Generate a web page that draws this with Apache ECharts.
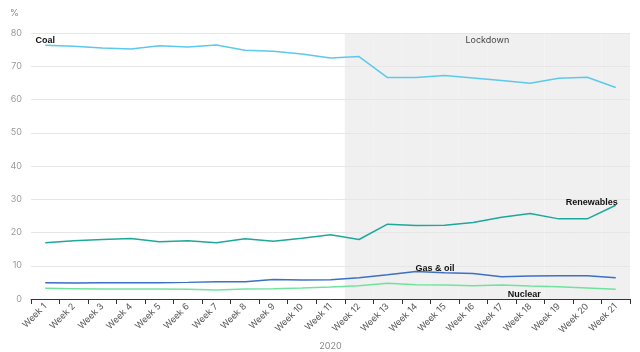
<!DOCTYPE html>
<html>
<head>
<meta charset="utf-8">
<script src="https://cdn.jsdelivr.net/npm/echarts@6/dist/echarts.min.js"></script>
<style>
html,body{margin:0;padding:0;background:#fff;}
#chart{width:640px;height:352px;}
</style>
</head>
<body>
<div id="chart"></div>
<script>
var weeks = [];
for (var i = 1; i <= 21; i++) weeks.push('Week ' + i);

var coal = [76.3, 76.0, 75.5, 75.2, 76.2, 75.8, 76.4, 74.8, 74.5, 73.7, 72.5, 72.9, 66.6, 66.6, 67.2, 66.5, 65.7, 64.9, 66.4, 66.7, 63.6];
var renewables = [16.9, 17.5, 17.9, 18.2, 17.2, 17.5, 16.9, 18.1, 17.4, 18.3, 19.3, 17.9, 22.5, 22.1, 22.2, 23.0, 24.6, 25.7, 24.1, 24.1, 28.2];
var gasOil = [4.9, 4.8, 4.9, 4.9, 4.9, 5.0, 5.2, 5.2, 5.9, 5.7, 5.8, 6.4, 7.3, 8.3, 7.9, 7.7, 6.7, 6.9, 7.0, 7.0, 6.4];
var nuclear = [3.2, 3.1, 3.0, 3.0, 3.0, 2.9, 2.7, 3.0, 3.1, 3.3, 3.6, 4.0, 4.7, 4.3, 4.2, 4.0, 4.2, 3.9, 3.7, 3.3, 2.9];
var lockdownStart = 11; // index of Week 12
var lockdown = weeks.map(function (w, i) { return i >= lockdownStart ? 80 : null; });

var labelStyle = { fontFamily: 'Liberation Sans', fontWeight: 'bold', fontSize: 9, color: '#111' };

function labelled(arr, idx, pos, offset, text) {
	return arr.map(function (v, i) {
		if (i !== idx) return v;
		return {
			value: v,
			label: Object.assign({ show: true, position: pos, offset: offset, distance: 3, formatter: text }, labelStyle)
		};
	});
}

function lineSeries(name, data, color) {
	return {
		name: name,
		type: 'line',
		data: data,
		symbol: 'circle',
		symbolSize: 0,
		showSymbol: true,
		showAllSymbol: true,
		itemStyle: { color: color },
		lineStyle: { color: color, width: 1.5 }
	};
}

var coalSeries = lineSeries('Coal', labelled(coal, 0, 'top', [0, 3], 'Coal'), '#5cc9ec');
coalSeries.markArea = {
	silent: true,
	itemStyle: { color: 'rgba(0,0,0,0)' },
	label: { show: true, position: 'insideTop', distance: 3, color: '#444', fontSize: 9, fontFamily: 'Inter' },
	data: [[{ name: 'Lockdown', xAxis: 'Week 12', yAxis: 80 }, { xAxis: 'Week 21', yAxis: 70 }]]
};

var chart = echarts.init(document.getElementById('chart'));
chart.setOption({
	animation: false,
	title: {
		text: '%', left: 5, top: 4,
		textStyle: { fontSize: 9, fontWeight: 'normal', color: '#888', fontFamily: 'Inter' }
	},
	grid: { left: 31, right: 10, top: 33, bottom: 53, outerBoundsMode: 'none', containLabel: false },
	xAxis: {
		type: 'category',
		data: weeks,
		name: '2020',
		nameLocation: 'middle',
		nameGap: 41,
		nameTextStyle: { color: '#888', fontSize: 9, fontFamily: 'Inter' },
		axisLine: { lineStyle: { color: '#333' } },
		axisTick: { show: true, interval: 0, length: 5, lineStyle: { color: '#333' } },
		axisLabel: { interval: 0, rotate: 45, fontSize: 9, color: '#555', fontFamily: 'Inter', margin: 6 }
	},
	yAxis: {
		type: 'value',
		min: 0, max: 80, interval: 10,
		axisLine: { show: false },
		axisTick: { show: false },
		axisLabel: { color: '#999', fontSize: 9, fontFamily: 'Inter', margin: 9 },
		splitLine: { lineStyle: { color: '#e6e6e6' } }
	},
	series: [
		{
			name: 'Lockdown',
			type: 'bar',
			data: lockdown,
			barCategoryGap: '0%',
			z: -1,
			silent: true,
			itemStyle: { color: '#f0f0f0' }
		},
		coalSeries,
		lineSeries('Renewables', labelled(renewables, 20, 'top', [-24, 5], 'Renewables'), '#1ea89b'),
		lineSeries('Gas & oil', labelled(gasOil, 13, 'top', [19, 5], 'Gas & oil'), '#3c6fc6'),
		lineSeries('Nuclear', labelled(nuclear, 17, 'bottom', [-6, 1], 'Nuclear'), '#6fe39c')
	]
});
</script>
</body>
</html>
